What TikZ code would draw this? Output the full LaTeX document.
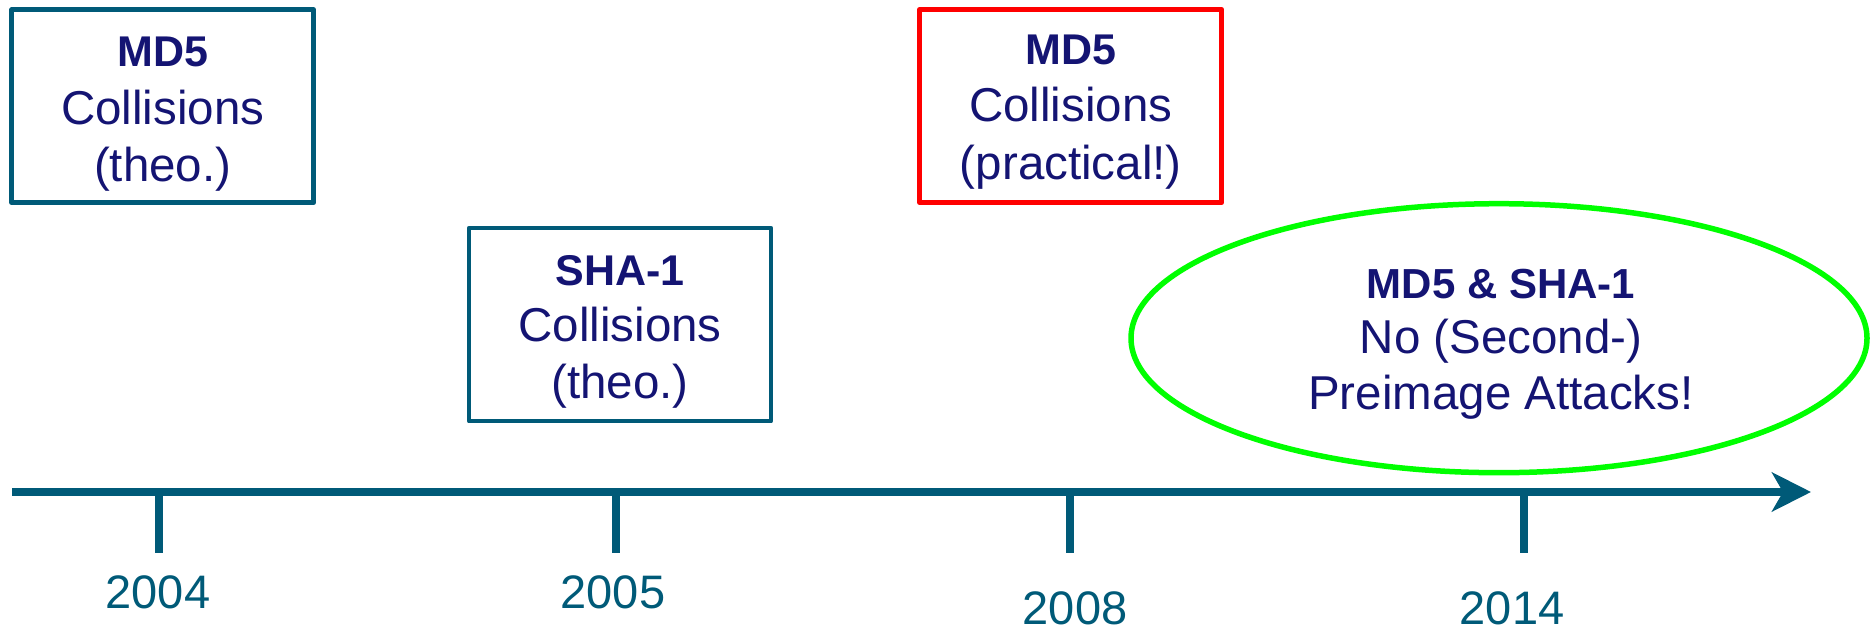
\documentclass[tikz,border=0pt]{standalone}
\usepackage{fontspec}
\setmainfont{Liberation Sans}
\usetikzlibrary{shapes.geometric,arrows.meta}
\definecolor{axisblue}{RGB}{0,90,120}
\definecolor{navytext}{RGB}{20,20,115}
\definecolor{boxred}{RGB}{255,0,0}
\definecolor{ovalgreen}{RGB}{0,255,0}
\tikzset{
  eventbox/.style={draw=axisblue, line width=4.7pt, minimum width=302pt, minimum height=193pt, inner sep=0pt, line join=round},
  hotbox/.style={eventbox, draw=boxred, line width=5pt},
  ovalbox/.style={ellipse, draw=ovalgreen, line width=5.5pt, minimum width=736pt, minimum height=269pt, inner sep=0pt},
  boldline/.style={anchor=base, inner sep=0pt, text=navytext, font=\fontsize{43}{48}\selectfont\bfseries},
  plainline/.style={anchor=base, inner sep=0pt, text=navytext, font=\fontsize{47.5}{52}\selectfont},
  ovalbold/.style={anchor=base, inner sep=0pt, text=navytext, font=\fontsize{42}{46}\selectfont\bfseries},
  ovalplain/.style={anchor=base, inner sep=0pt, text=navytext, font=\fontsize{47.5}{52}\selectfont},
  yearlabel/.style={anchor=base, inner sep=0pt, text=axisblue, font=\fontsize{47}{50}\selectfont},
  axisline/.style={draw=axisblue, line width=8pt},
  tickline/.style={draw=axisblue, line width=8pt},
}
\begin{document}
\begin{tikzpicture}[x=1pt,y=-1pt]
\useasboundingbox (0,0) rectangle (1870,628);
% boxes
\node[eventbox] (b1) at (162.7,106.2) {};
\node[boldline]  (b1a) at (162.7,66.3) {MD5};
\node[plainline] (b1b) at (162.7,125) {Collisions};
\node[plainline] (b1c) at (162.7,181.7) {(theo.)};

\node[eventbox] (b2) at (620,324.6) {};
\node[boldline]  (b2a) at (620,285) {SHA-1};
\node[plainline] (b2b) at (620,341.7) {Collisions};
\node[plainline] (b2c) at (620,398.3) {(theo.)};

\node[hotbox] (b3) at (1070.8,106) {};
\node[boldline]  (b3a) at (1070.8,65) {MD5};
\node[plainline] (b3b) at (1070.8,121.7) {Collisions};
\node[plainline] (b3c) at (1070.8,180) {(practical!)};

\node[ovalbox] (e) at (1499,338.2) {};
\node[ovalbold]  (ea) at (1501,298.3) {MD5 \& SHA-1};
\node[ovalplain] (eb) at (1501,353.3) {No (Second-)};
\node[ovalplain] (ec) at (1501,409) {Preimage Attacks!};

% axis
\coordinate (axstart) at (12,492);
\coordinate (axend) at (1811,492);
\draw[axisline, -{Stealth[length=39pt,width=39pt,inset=11pt]}] (axstart) -- (axend);

\coordinate (t1) at (159,492);   \coordinate (t1e) at (159,553);
\coordinate (t2) at (616,492);   \coordinate (t2e) at (616,553);
\coordinate (t3) at (1070,492);  \coordinate (t3e) at (1070,553);
\coordinate (t4) at (1524,492);  \coordinate (t4e) at (1524,553);
\draw[tickline] (t1) -- (t1e);
\draw[tickline] (t2) -- (t2e);
\draw[tickline] (t3) -- (t3e);
\draw[tickline] (t4) -- (t4e);

\node[yearlabel] (y1) at (158,608) {2004};
\node[yearlabel] (y2) at (613,608) {2005};
\node[yearlabel] (y3) at (1075,624) {2008};
\node[yearlabel] (y4) at (1512,624) {2014};
\end{tikzpicture}
\end{document}
